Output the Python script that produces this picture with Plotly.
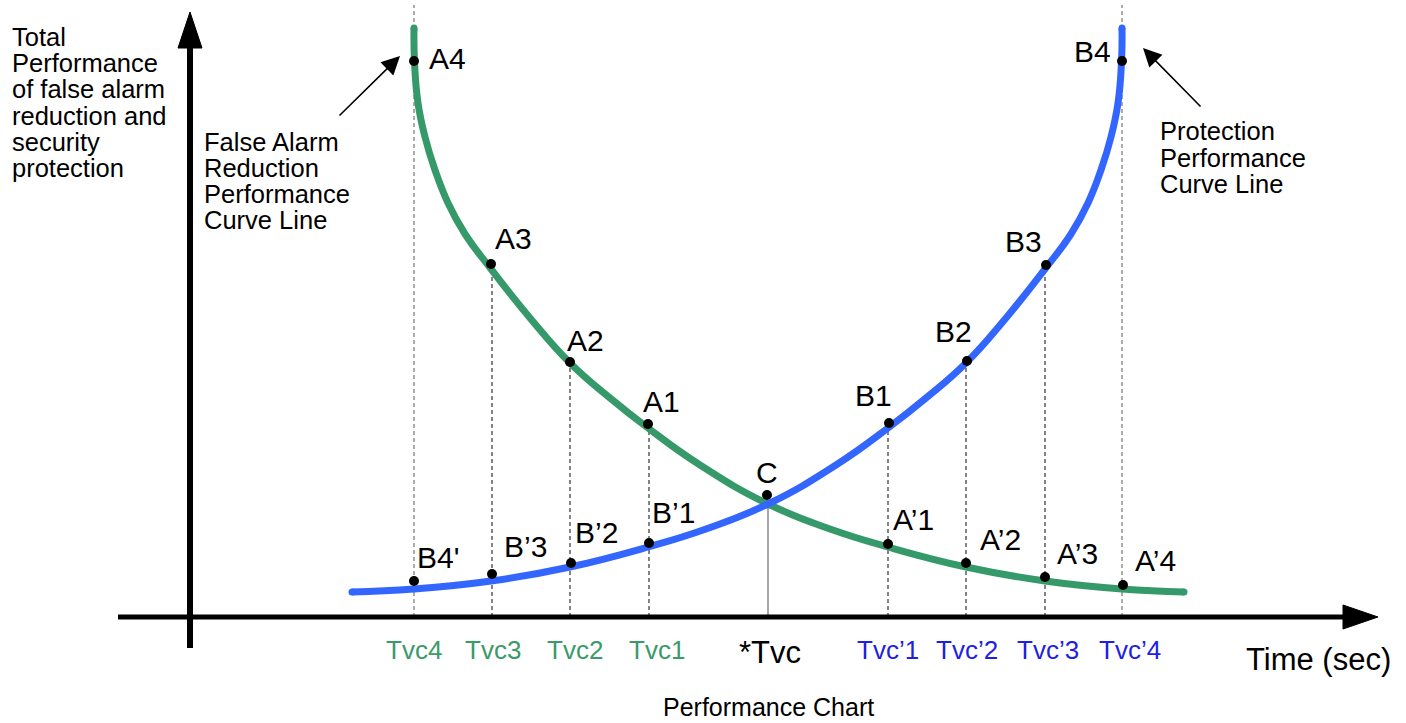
import plotly.graph_objects as go

# ---------------- data (x: time units, y: performance units) ----------------
green_t = [22.40, 22.45, 22.8, 23.5, 24.5, 25.8, 27.5, 30.1, 34.0, 38.0, 42.0, 45.8,
           51.0, 57.8, 64.0, 69.8, 77.6, 85.5, 93.2, 99.4]
green_v = [58.9, 55.5, 51.4, 48.0, 44.7, 41.4, 38.3, 34.8, 29.9, 25.4, 21.9, 18.9,
           15.2, 11.3, 8.8, 7.0, 5.0, 3.6, 2.8, 2.5]

blue_t = [16.2, 22.4, 30.1, 38.0, 45.8, 51.6, 57.8, 64.6, 69.8, 73.6, 77.6, 81.6,
          85.5, 88.1, 89.8, 91.1, 92.1, 92.8, 93.15, 93.2]
blue_v = [2.5, 2.8, 3.6, 5.0, 7.0, 8.8, 11.3, 15.2, 18.9, 21.9, 25.4, 29.9,
          34.8, 38.3, 41.4, 44.7, 48.0, 51.4, 55.5, 58.9]

a_names = ["A4", "A3", "A2", "A1", "A\u20191", "A\u20192", "A\u20193", "A\u20194"]
a_t = [22.4, 30.1, 38.0, 45.8, 69.8, 77.6, 85.5, 93.3]
a_v = [55.6, 35.3, 25.5, 19.3, 7.3, 5.4, 4.0, 3.2]

b_names = ["B4'", "B\u20193", "B\u20192", "B\u20191", "B1", "B2", "B3", "B4"]
b_t = [22.4, 30.2, 38.1, 45.9, 69.9, 77.7, 85.6, 93.2]
b_v = [3.6, 4.3, 5.4, 7.4, 19.4, 25.6, 35.2, 55.6]

c_name = ["C"]
c_t = [57.7]
c_v = [12.2]

tick_labels = ["Tvc4", "Tvc3", "Tvc2", "Tvc1", "*Tvc", "Tvc\u20191", "Tvc\u20192", "Tvc\u20193", "Tvc\u20194"]
tick_t = [22.4, 30.2, 38.0, 45.9, 57.8, 69.8, 77.6, 85.5, 93.2]
tick_top = [61.2, 35.3, 25.5, 19.3, 11.2, 19.4, 25.6, 35.2, 61.2]

y_title_lines = ["Total", "Performance", "of false alarm", "reduction and", "security", "protection"]
fa_lines = ["False Alarm", "Reduction", "Performance", "Curve Line"]
pr_lines = ["Protection", "Performance", "Curve Line"]
x_title = "Time (sec)"
caption = "Performance Chart"

# ---------------- styles ----------------
W, H = 1406, 723
FONT = "Liberation Sans, Arial, Helvetica, sans-serif"
GREEN = "#35996a"
BLUE = "#3366ff"
TICK_GREEN = "#3a9a6a"
TICK_BLUE = "#1e1ee6"
X_RANGE = [-19.0, 121.6]
Y_RANGE = [-10.6, 61.7]

fig = go.Figure()

# dashed / solid guide lines
shapes = []
for i, (t, top) in enumerate(zip(tick_t, tick_top)):
    if i == 4:
        shapes.append(dict(type="line", x0=t, x1=t, y0=0, y1=top, xref="x", yref="y",
                           line=dict(color="#8a8a8a", width=1.5), layer="below"))
    elif i in (0, 8):
        shapes.append(dict(type="line", x0=t, x1=t, y0=0, y1=top, xref="x", yref="y",
                           line=dict(color="#808080", width=1.3, dash="4px,3px"), layer="below"))
    else:
        shapes.append(dict(type="line", x0=t, x1=t, y0=0, y1=top, xref="x", yref="y",
                           line=dict(color="#333333", width=1.2, dash="4px,3px"), layer="below"))

# axes with arrowheads
x_ax0, x_ax1, x_tip, ah = -7.2, 115.3, 118.8, 1.2
y_ax0, y_ax1, y_tip, aw = -3.1, 56.9, 60.5, 1.2
shapes.append(dict(type="line", x0=x_ax0, x1=x_ax1 + 0.5, y0=0, y1=0, xref="x", yref="y",
                   line=dict(color="black", width=5)))
shapes.append(dict(type="path", xref="x", yref="y",
                   path=f"M {x_ax1},{ah} L {x_tip},0 L {x_ax1},{-ah} Z",
                   fillcolor="black", line=dict(color="black", width=1)))
shapes.append(dict(type="line", x0=0, x1=0, y0=y_ax0, y1=y_ax1 + 0.5, xref="x", yref="y",
                   line=dict(color="black", width=6)))
shapes.append(dict(type="path", xref="x", yref="y",
                   path=f"M {-aw},{y_ax1} L 0,{y_tip} L {aw},{y_ax1} Z",
                   fillcolor="black", line=dict(color="black", width=1)))

# curves
fig.add_trace(go.Scatter(x=green_t, y=green_v, mode="lines",
                         line=dict(color=GREEN, width=7, shape="spline", smoothing=1.3),
                         hoverinfo="skip", showlegend=False))
fig.add_trace(go.Scatter(x=blue_t, y=blue_v, mode="lines",
                         line=dict(color=BLUE, width=7, shape="spline", smoothing=1.3),
                         hoverinfo="skip", showlegend=False))
# rounded ends
fig.add_trace(go.Scatter(x=[green_t[0], green_t[-1]], y=[green_v[0], green_v[-1]], mode="markers",
                         marker=dict(color=GREEN, size=7), hoverinfo="skip", showlegend=False))
fig.add_trace(go.Scatter(x=[blue_t[0], blue_t[-1]], y=[blue_v[0], blue_v[-1]], mode="markers",
                         marker=dict(color=BLUE, size=7), hoverinfo="skip", showlegend=False))

# points
fig.add_trace(go.Scatter(x=a_t + b_t + c_t, y=a_v + b_v + c_v, mode="markers",
                         marker=dict(color="black", size=10),
                         hoverinfo="skip", showlegend=False))

annotations = []
LBL = 30
a_off = [(33, 3), (22, 26), (15, 22), (13, 23), (25, 25), (34, 24), (32, 24), (32, 25)]
b_off = [(24, 24), (33, 28), (25, 31), (24, 31), (-16, 28), (-14, 30), (-23, 24), (-30, 10)]
c_off = [(0, 23)]
for names, ts, vs, offs in ((a_names, a_t, a_v, a_off), (b_names, b_t, b_v, b_off),
                            (c_name, c_t, c_v, c_off)):
    for n, t, v, (dx, dy) in zip(names, ts, vs, offs):
        annotations.append(dict(x=t, y=v, xref="x", yref="y", text=n, showarrow=False,
                                xshift=dx, yshift=dy, xanchor="center", yanchor="middle",
                                font=dict(family=FONT, size=LBL, color="black")))

# tick labels
tick_dx = [0, 1, 5, 8, 2, 0, 1, 3, 8]
for i, (lab, t) in enumerate(zip(tick_labels, tick_t)):
    if i < 4:
        col, sz = TICK_GREEN, 26
    elif i == 4:
        col, sz = "black", 31
    else:
        col, sz = TICK_BLUE, 26
    annotations.append(dict(x=t, y=0, xref="x", yref="y", text=lab, showarrow=False,
                            xshift=tick_dx[i], yshift=-33 if i != 4 else -35,
                            xanchor="center", yanchor="middle",
                            font=dict(family=FONT, size=sz, color=col)))

def px_text(text, x, y, size, anchor="left"):
    annotations.append(dict(x=x / W, y=1 - y / H, xref="paper", yref="paper", text=text,
                            showarrow=False, xanchor=anchor, yanchor="middle",
                            font=dict(family=FONT, size=size, color="black")))

for i, line in enumerate(y_title_lines):
    px_text(line, 10, 37 + 26.2 * i, 25.5)
for i, line in enumerate(fa_lines):
    px_text(line, 202, 142 + 26 * i, 25.5)
for i, line in enumerate(pr_lines):
    px_text(line, 1158, 131 + 26.5 * i, 25.5)
px_text(x_title, 1318, 659, 31, anchor="center")
px_text(caption, 768, 707, 25, anchor="center")

# pointer arrows (tip near A4 / B4, tail near the descriptions)
annotations.append(dict(x=21.0, y=56.1, ax=14.8, ay=50.0, xref="x", yref="y", axref="x", ayref="y",
                        text="", showarrow=True, arrowhead=2, arrowsize=2.3, arrowwidth=1.6,
                        arrowcolor="black"))
annotations.append(dict(x=95.3, y=56.9, ax=101.2, ay=50.9, xref="x", yref="y", axref="x", ayref="y",
                        text="", showarrow=True, arrowhead=2, arrowsize=2.3, arrowwidth=1.6,
                        arrowcolor="black"))

fig.update_layout(
    width=W, height=H,
    margin=dict(l=0, r=0, t=0, b=0),
    paper_bgcolor="white", plot_bgcolor="white",
    xaxis=dict(range=X_RANGE, visible=False, fixedrange=True),
    yaxis=dict(range=Y_RANGE, visible=False, fixedrange=True),
    shapes=shapes, annotations=annotations, showlegend=False,
)

fig.write_html("out.html", config={"displayModeBar": False},
               post_script="document.body.style.margin='0px';document.body.style.overflow='hidden';")
